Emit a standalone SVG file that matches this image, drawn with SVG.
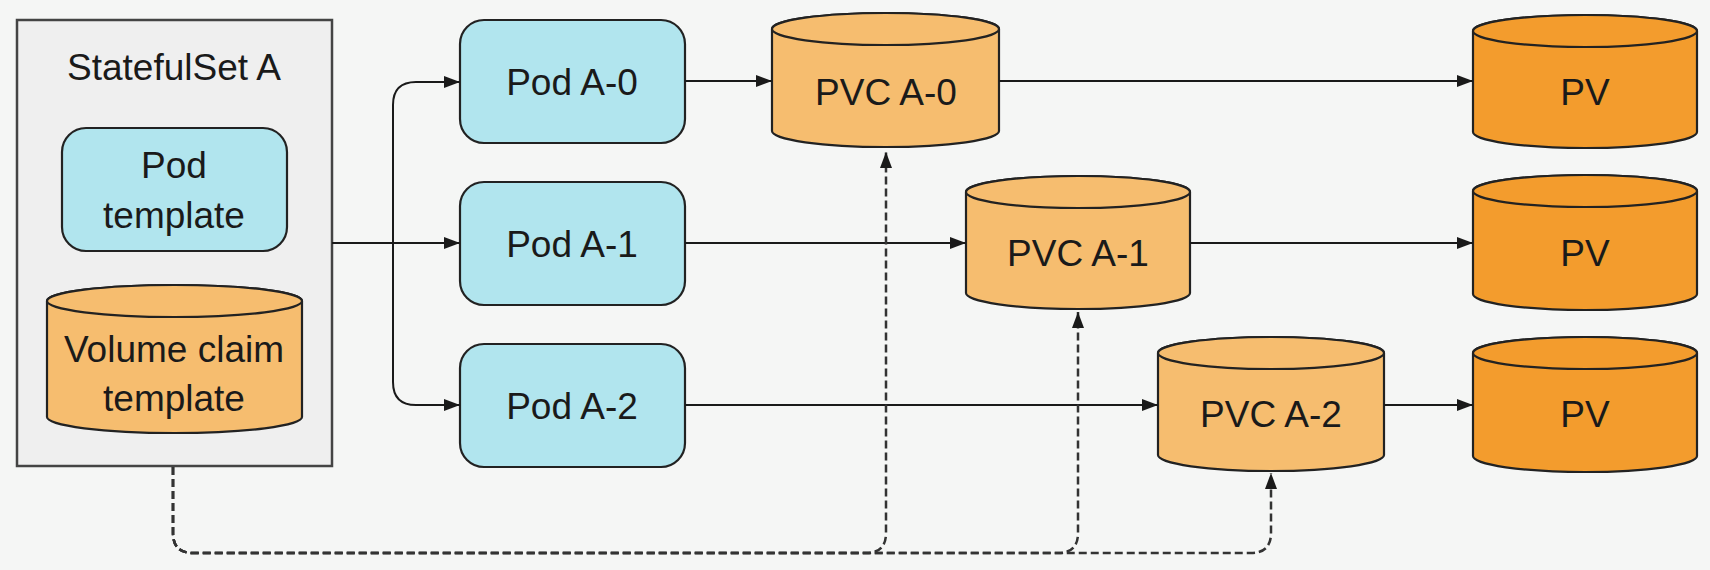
<svg xmlns="http://www.w3.org/2000/svg" width="1710" height="570" viewBox="0 0 1710 570">
<style>
text{font-family:"Liberation Sans",Arial,sans-serif;font-size:37px;fill:#1a1a1a;text-anchor:middle}
.pod{fill:#b1e5ee;stroke:#222;stroke-width:2.2}
.pvc{fill:#f6bd6f;stroke:#222;stroke-width:2.2}
.pv{fill:#f39c2d;stroke:#222;stroke-width:2.2}
.ln{fill:none;stroke:#1a1a1a;stroke-width:2}
.dash{fill:none;stroke:#333;stroke-width:2.5;stroke-dasharray:8 4}
</style>
<defs>
<marker id="ah" markerUnits="userSpaceOnUse" markerWidth="16" markerHeight="12" refX="16" refY="6" orient="auto">
<path d="M0,0 L16,6 L0,12 z" fill="#1a1a1a"/>
</marker>
</defs>
<rect width="1710" height="570" fill="#f5f6f5"/>

<g id="statefulset">
<rect x="17" y="20" width="315" height="446" fill="#efefef" stroke="#444" stroke-width="2.5"/>
<text x="174" y="80">StatefulSet A</text>
</g>
<g id="pod-template">
<rect x="62" y="128" width="225" height="123" rx="24" class="pod"/>
<text x="174" y="178">Pod</text>
<text x="174" y="228">template</text>
</g>
<g id="volume-claim-template">
<path class="pvc" d="M47,301 V417 A127.5,16 0 0 0 302,417 V301 A127.5,16 0 0 0 47,301 Z"/>
<ellipse cx="174.5" cy="301" rx="127.5" ry="16" class="pvc"/>
<text x="174" y="362">Volume claim</text>
<text x="174" y="411">template</text>
</g>

<g id="pod-a0">
<rect x="460" y="20" width="225" height="123" rx="24" class="pod"/>
<text x="572" y="95">Pod A-0</text>
</g>
<g id="pod-a1">
<rect x="460" y="182" width="225" height="123" rx="24" class="pod"/>
<text x="572" y="257">Pod A-1</text>
</g>
<g id="pod-a2">
<rect x="460" y="344" width="225" height="123" rx="24" class="pod"/>
<text x="572" y="419">Pod A-2</text>
</g>

<g id="pvc-a0">
<path class="pvc" d="M772,29 V131 A113.5,16 0 0 0 999,131 V29 A113.5,16 0 0 0 772,29 Z"/>
<ellipse cx="885.5" cy="29" rx="113.5" ry="16" class="pvc"/>
<text x="886" y="105">PVC A-0</text>
</g>
<g id="pvc-a1">
<path class="pvc" d="M966,192 V293 A112,16 0 0 0 1190,293 V192 A112,16 0 0 0 966,192 Z"/>
<ellipse cx="1078" cy="192" rx="112" ry="16" class="pvc"/>
<text x="1078" y="266">PVC A-1</text>
</g>
<g id="pvc-a2">
<path class="pvc" d="M1158,353 V455 A113,16 0 0 0 1384,455 V353 A113,16 0 0 0 1158,353 Z"/>
<ellipse cx="1271" cy="353" rx="113" ry="16" class="pvc"/>
<text x="1271" y="427">PVC A-2</text>
</g>

<g id="pv-0">
<path class="pv" d="M1473,31 V132 A112,16 0 0 0 1697,132 V31 A112,16 0 0 0 1473,31 Z"/>
<ellipse cx="1585" cy="31" rx="112" ry="16" class="pv"/>
<text x="1585" y="105">PV</text>
</g>
<g id="pv-1">
<path class="pv" d="M1473,191 V294 A112,16 0 0 0 1697,294 V191 A112,16 0 0 0 1473,191 Z"/>
<ellipse cx="1585" cy="191" rx="112" ry="16" class="pv"/>
<text x="1585" y="266">PV</text>
</g>
<g id="pv-2">
<path class="pv" d="M1473,353 V456 A112,16 0 0 0 1697,456 V353 A112,16 0 0 0 1473,353 Z"/>
<ellipse cx="1585" cy="353" rx="112" ry="16" class="pv"/>
<text x="1585" y="427">PV</text>
</g>

<g id="connectors">
<path class="ln" d="M332,243 H460" marker-end="url(#ah)"/>
<path class="ln" d="M393,243 V105 Q393,82 416,82 H460" marker-end="url(#ah)"/>
<path class="ln" d="M393,243 V382 Q393,405 416,405 H460" marker-end="url(#ah)"/>
<path class="ln" d="M685,81 H772" marker-end="url(#ah)"/>
<path class="ln" d="M685,243 H966" marker-end="url(#ah)"/>
<path class="ln" d="M685,405 H1158" marker-end="url(#ah)"/>
<path class="ln" d="M999,81 H1473" marker-end="url(#ah)"/>
<path class="ln" d="M1190,243 H1473" marker-end="url(#ah)"/>
<path class="ln" d="M1384,405 H1473" marker-end="url(#ah)"/>
<path class="dash" d="M173,467 V533 Q173,553 193,553 H866 Q886,553 886,533 V152" marker-end="url(#ah)"/>
<path class="dash" d="M173,467 V533 Q173,553 193,553 H1058 Q1078,553 1078,533 V312" marker-end="url(#ah)"/>
<path class="dash" d="M173,467 V533 Q173,553 193,553 H1251 Q1271,553 1271,533 V473" marker-end="url(#ah)"/>
</g>
</svg>
